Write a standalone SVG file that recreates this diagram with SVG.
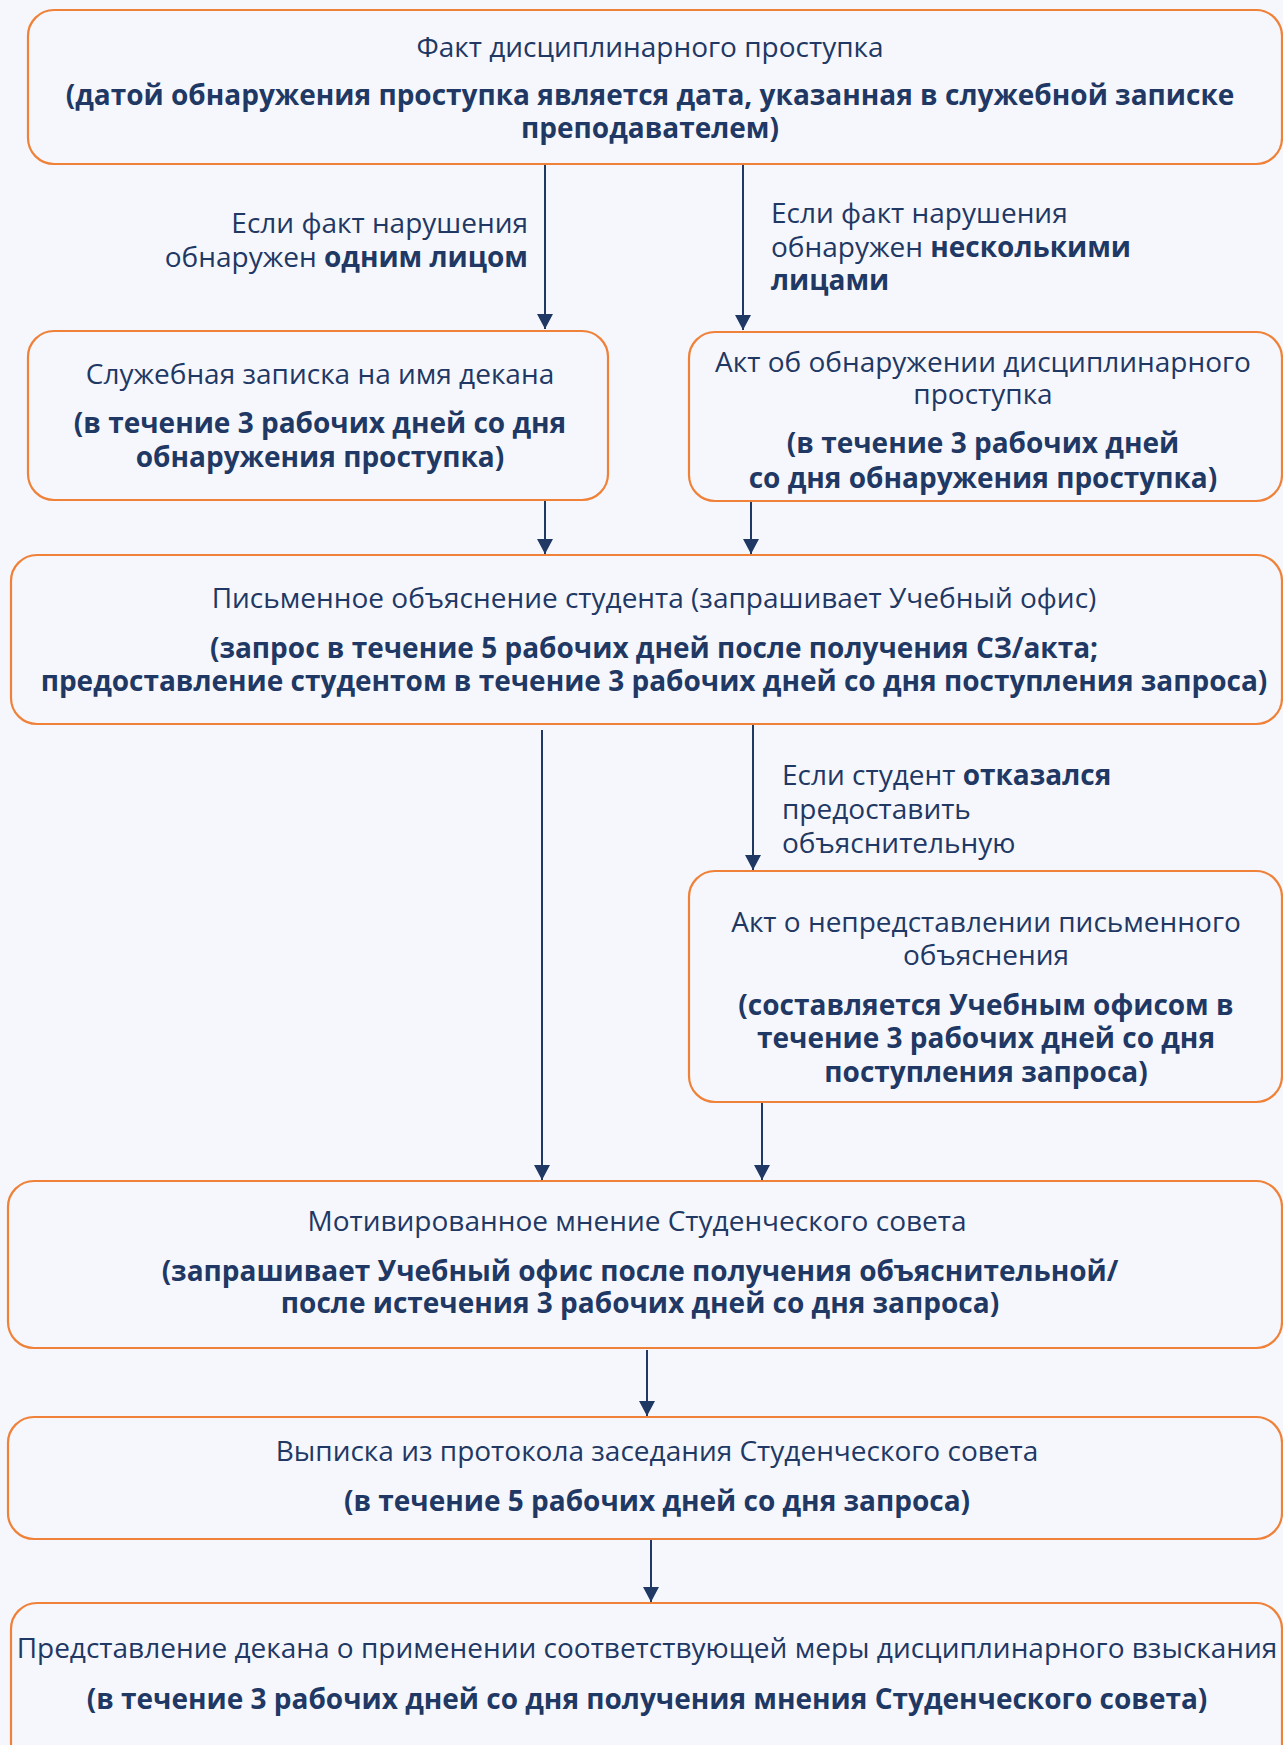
<svg xmlns="http://www.w3.org/2000/svg" width="1283" height="1745" viewBox="0 0 1283 1745">
<defs>
<style>
.bg{fill:#f5f7fc}
.box{fill:#f5f7fc;stroke:#ef8138;stroke-width:2.2}
.t{font-family:"Open Sans","Noto Sans","DejaVu Sans",sans-serif;font-size:28px;fill:#1f3864}
.c{text-anchor:middle}
.r{text-anchor:end}
.b{font-weight:bold}
.ln{stroke:#1f3864;stroke-width:2;fill:none}
</style>
<marker id="ah" markerUnits="userSpaceOnUse" markerWidth="16" markerHeight="16" viewBox="0 0 16 16" refX="15" refY="8" orient="auto">
<path d="M0,0 L15,8 L0,16 Z" fill="#1f3864"/>
</marker>
</defs>
<rect class="bg" x="0" y="0" width="1283" height="1745"/>
<g id="connectors">
<line class="ln" x1="545" y1="165" x2="545" y2="329" marker-end="url(#ah)"/>
<line class="ln" x1="743" y1="165" x2="743" y2="330" marker-end="url(#ah)"/>
<line class="ln" x1="545" y1="501" x2="545" y2="554" marker-end="url(#ah)"/>
<line class="ln" x1="751" y1="502" x2="751" y2="554" marker-end="url(#ah)"/>
<line class="ln" x1="542" y1="730" x2="542" y2="1180" marker-end="url(#ah)"/>
<line class="ln" x1="753" y1="725" x2="753" y2="870" marker-end="url(#ah)"/>
<line class="ln" x1="762" y1="1103" x2="762" y2="1180" marker-end="url(#ah)"/>
<line class="ln" x1="647" y1="1350" x2="647" y2="1416" marker-end="url(#ah)"/>
<line class="ln" x1="651" y1="1540" x2="651" y2="1602" marker-end="url(#ah)"/>
</g>
<g id="label-one">
<text class="t r" x="528" y="233">Если факт нарушения</text>
<text class="t r" x="528" y="267">обнаружен <tspan class="b">одним лицом</tspan></text>
</g>
<g id="label-many">
<text class="t" x="771" y="223">Если факт нарушения</text>
<text class="t" x="771" y="257">обнаружен <tspan class="b">несколькими</tspan></text>
<text class="t b" x="771" y="290">лицами</text>
</g>
<g id="label-refused">
<text class="t" x="782" y="785">Если студент <tspan class="b">отказался</tspan></text>
<text class="t" x="782" y="819">предоставить</text>
<text class="t" x="782" y="853">объяснительную</text>
</g>
<g id="n1">
<rect class="box" x="28" y="10" width="1254" height="154" rx="26"/>
<text class="t c" x="650" y="57">Факт дисциплинарного проступка</text>
<text class="t c b" x="650" y="105">(датой обнаружения проступка является дата, указанная в служебной записке</text>
<text class="t c b" x="650" y="138">преподавателем)</text>
</g>
<g id="n2">
<rect class="box" x="28" y="331" width="580" height="169" rx="26"/>
<text class="t c" x="320" y="384">Служебная записка на имя декана</text>
<text class="t c b" x="320" y="433">(в течение 3 рабочих дней со дня</text>
<text class="t c b" x="320" y="467">обнаружения проступка)</text>
</g>
<g id="n3">
<rect class="box" x="689" y="332" width="593" height="169" rx="26"/>
<text class="t c" x="983" y="372">Акт об обнаружении дисциплинарного</text>
<text class="t c" x="983" y="404">проступка</text>
<text class="t c b" x="983" y="453">(в течение 3 рабочих дней</text>
<text class="t c b" x="983" y="488">со дня обнаружения проступка)</text>
</g>
<g id="n4">
<rect class="box" x="11" y="555" width="1271" height="169" rx="26"/>
<text class="t c" x="654" y="608">Письменное объяснение студента (запрашивает Учебный офис)</text>
<text class="t c b" x="654" y="658">(запрос в течение 5 рабочих дней после получения СЗ/акта;</text>
<text class="t c b" x="654" y="691">предоставление студентом в течение 3 рабочих дней со дня поступления запроса)</text>
</g>
<g id="n5">
<rect class="box" x="689" y="871" width="593" height="231" rx="26"/>
<text class="t c" x="986" y="932">Акт о непредставлении письменного</text>
<text class="t c" x="986" y="965">объяснения</text>
<text class="t c b" x="986" y="1015">(составляется Учебным офисом в</text>
<text class="t c b" x="986" y="1048">течение 3 рабочих дней со дня</text>
<text class="t c b" x="986" y="1082">поступления запроса)</text>
</g>
<g id="n6">
<rect class="box" x="8" y="1181" width="1274" height="167" rx="26"/>
<text class="t c" x="637" y="1231">Мотивированное мнение Студенческого совета</text>
<text class="t c b" x="640" y="1281">(запрашивает Учебный офис после получения объяснительной/</text>
<text class="t c b" x="640" y="1313">после истечения 3 рабочих дней со дня запроса)</text>
</g>
<g id="n7">
<rect class="box" x="8" y="1417" width="1274" height="122" rx="26"/>
<text class="t c" x="657" y="1461">Выписка из протокола заседания Студенческого совета</text>
<text class="t c b" x="657" y="1511">(в течение 5 рабочих дней со дня запроса)</text>
</g>
<g id="n8">
<rect class="box" x="11" y="1603" width="1271" height="190" rx="26"/>
<text class="t c" x="647" y="1658">Представление декана о применении соответствующей меры дисциплинарного взыскания</text>
<text class="t c b" x="647" y="1709">(в течение 3 рабочих дней со дня получения мнения Студенческого совета)</text>
</g>
</svg>
